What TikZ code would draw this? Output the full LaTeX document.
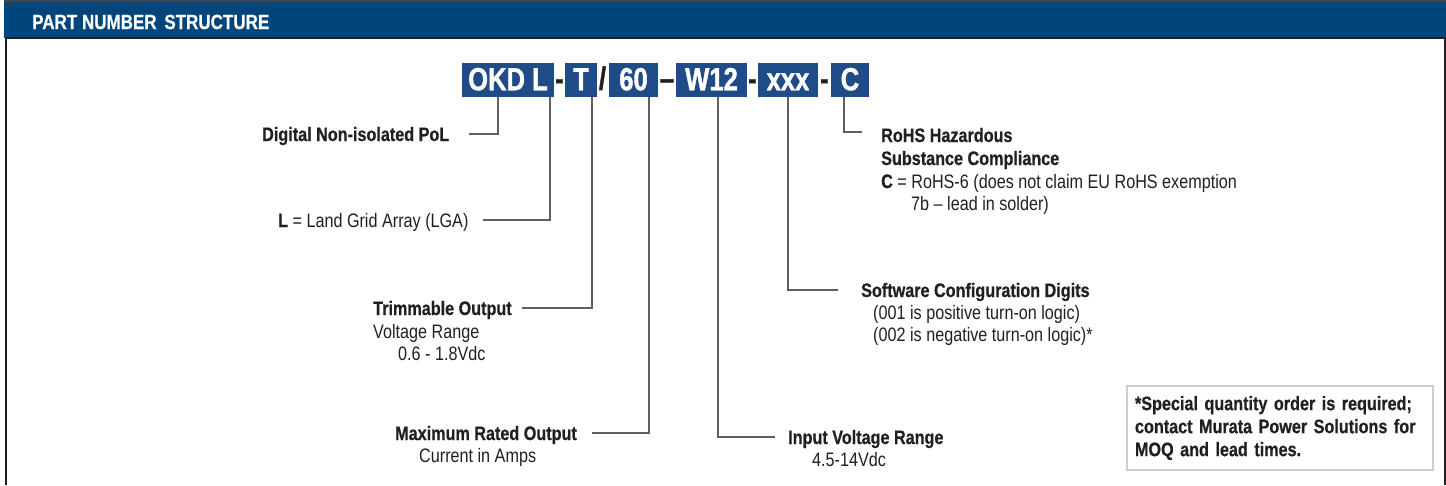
\documentclass[tikz,border=0pt]{standalone}
\usepackage{fontspec}
\setmainfont{Liberation Sans}[FakeStretch=0.83,BoldFeatures={FakeBold=0.6}]
\newfontfamily\pnfont{Liberation Sans}[FakeStretch=0.8,BoldFeatures={FakeBold=1.2}]
\definecolor{hdrblue}{RGB}{0,69,124}
\definecolor{boxblue}{RGB}{31,75,135}
\definecolor{ink}{RGB}{35,31,32}
\definecolor{linegray}{RGB}{95,95,95}
\definecolor{notegray}{RGB}{205,205,205}
\definecolor{rulegray}{RGB}{70,70,70}
\tikzset{
	pn/.style={fill=boxblue,text=white,font=\pnfont\fontsize{32}{32}\selectfont\bfseries,
		inner sep=0pt,minimum height=34pt,text height=22pt,text depth=1.5pt},
	sepmark/.style={text=ink,font=\pnfont\fontsize{32}{32}\selectfont\bfseries,inner sep=0pt,anchor=base},
	lbl/.style={text=ink,font=\fontsize{19.5}{22}\selectfont,inner sep=0pt,
		text height=14pt,text depth=0pt,anchor=base west},
	conn/.style={draw=linegray,line width=1.3pt},
}
\begin{document}
\begin{tikzpicture}[x=1pt,y=-1pt]
	\useasboundingbox (0,0) rectangle (1446,485);
	\fill[hdrblue] (4,2) rectangle (1446,38);
	\draw[rulegray,line width=1.5pt] (4,1.2)--(1446,1.2);
	\draw[ink,line width=1.4pt] (5,38)--(1445,38);
	\draw[ink,line width=2pt] (6,38)--(6,485);
	\draw[ink,line width=1.2pt] (1445,38)--(1445,485);
	\node[anchor=base west,inner sep=0pt,text=white,font=\fontsize{20.5}{20.5}\selectfont\bfseries]
		(title) at (32,29) {PART NUMBER\hspace{3pt} STRUCTURE};

	\node[pn,minimum width=92pt] (okd) at (508,80) {OKD L};
	\node[pn,minimum width=32pt] (trm) at (581,80) {T};
	\node[pn,minimum width=49pt] (amp) at (633.5,80) {60};
	\node[pn,minimum width=71pt] (vin) at (711.5,80) {W12};
	\node[pn,minimum width=60pt] (cfg) at (788,80) {xxx};
	\node[pn,minimum width=38pt] (rhs) at (850,80) {C};
	\node[sepmark] (d1) at (559.5,89.5) {-};
	\node[sepmark] (d2) at (602.5,89.5) {/};
	\node[sepmark] (d3) at (667,89.5) {–};
	\node[sepmark] (d4) at (752.5,89.5) {-};
	\node[sepmark] (d5) at (824.5,89.5) {-};

	\node[lbl] (pol) at (262,141) {\bfseries Digital Non-isolated PoL};
	\node[lbl] (lga) at (278,227) {\textbf{L} = Land Grid Array (LGA)};
	\node[lbl] (trimA) at (373,315) {\bfseries Trimmable Output};
	\node[lbl] (trimB) at (373,338) {Voltage Range};
	\node[lbl] (trimC) at (398,360) {0.6 - 1.8Vdc};
	\node[lbl] (maxA) at (395,440) {\bfseries Maximum Rated Output};
	\node[lbl] (maxB) at (419,462) {Current in Amps};
	\node[lbl] (inA) at (788,444) {\bfseries Input Voltage Range};
	\node[lbl] (inB) at (812,466) {4.5-14Vdc};
	\node[lbl] (swA) at (861,297) {\bfseries Software Configuration Digits};
	\node[lbl] (swB) at (873,319) {(001 is positive turn-on logic)};
	\node[lbl] (swC) at (873,341) {(002 is negative turn-on logic)*};
	\node[lbl] (rohsA) at (881,142) {\bfseries RoHS Hazardous};
	\node[lbl] (rohsB) at (881,165) {\bfseries Substance Compliance};
	\node[lbl] (rohsC) at (881,188) {\textbf{C} = RoHS-6 (does not claim EU RoHS exemption};
	\node[lbl] (rohsD) at (911,210) {7b -- lead in solder)};

	\draw[conn] ([xshift=-10pt]okd.south) |- ([xshift=20pt]pol.east);
	\draw[conn] ([xshift=42pt]okd.south) |- ([xshift=14pt]lga.east);
	\draw[conn] ([xshift=11pt]trm.south) |- ([xshift=10pt]trimA.east);
	\draw[conn] ([xshift=15.5pt]amp.south) |- ([xshift=15pt]maxA.east);
	\draw[conn] ([xshift=6.5pt]vin.south) |- ([xshift=-13pt]inA.west);
	\draw[conn] (cfg.south) |- ([xshift=-23pt]swA.west);
	\draw[conn] ([xshift=-6pt]rhs.south) |- ([xshift=-19pt,yshift=3pt]rohsA.west);

	\node[draw=notegray,line width=2pt,text=ink,font=\fontsize{19.5}{23}\selectfont\bfseries,
		text width=290pt,inner xsep=8pt,minimum height=84pt,align=left]
		(note) at (1280,428) {*Special quantity order is required;\\contact Murata Power Solutions for\\MOQ and lead times.};
\end{tikzpicture}
\end{document}
